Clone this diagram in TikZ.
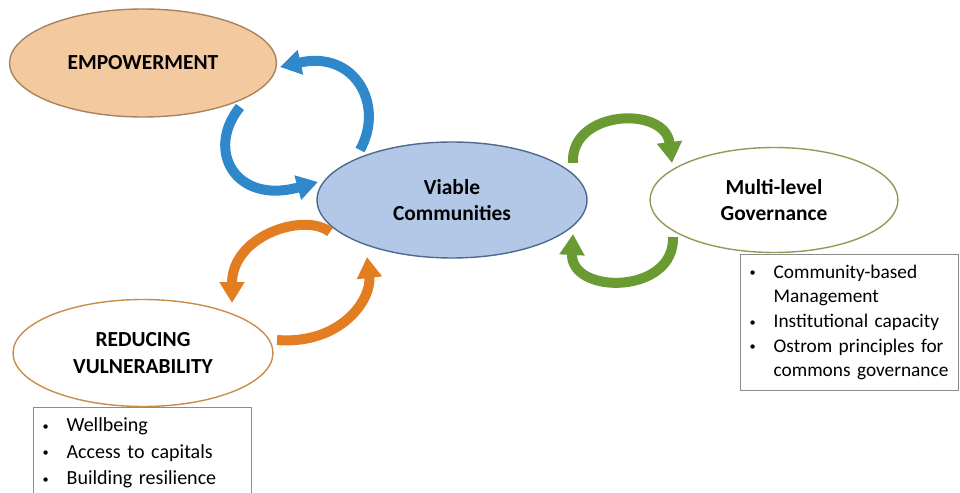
\documentclass[tikz,border=0pt]{standalone}
\usepackage{fontspec}
\setmainfont{Carlito}
\usetikzlibrary{shapes.geometric,arrows.meta}

\begin{document}
\begin{tikzpicture}[x=0.02cm,y=-0.02cm]
  % Local definitions
  \def\itemdot{\raisebox{0.15ex}{\scriptsize\textbullet}}

  % Colors
  \definecolor{empfill}{HTML}{F3C9A0}
  \definecolor{empline}{HTML}{A8845E}
  \definecolor{viafill}{HTML}{B3C7E7}
  \definecolor{vialine}{HTML}{4F6A8E}
  \definecolor{govline}{HTML}{8E9C58}
  \definecolor{redline}{HTML}{C98C4C}
  \definecolor{bluearrow}{HTML}{2F88C9}
  \definecolor{orangearrow}{HTML}{E27D22}
  \definecolor{greenarrow}{HTML}{6A9B32}
  \definecolor{boxline}{HTML}{8C8C8C}

  % Styles
  \tikzstyle{blob}=[ellipse,inner sep=0pt,align=center,line width=0.8pt,
    font=\fontsize{12.2}{15}\selectfont\bfseries]
  \tikzstyle{list box}=[rectangle,draw=boxline,line width=0.6pt,inner xsep=0.18cm,
    text width=4cm,font=\fontsize{11}{14}\selectfont]
  \tikzstyle{loop arrow}=[line width=0.2cm,-{Triangle[length=0.42cm,width=0.48cm]}]

  \path[use as bounding box] (0,0) rectangle (960,493);
  \clip (0,0) rectangle (960,493);

  % The graphic
  \node[blob,fill=empfill,draw=empline,minimum width=5.34cm,minimum height=2.16cm]
    (empower) at (143,63) {EMPOWERMENT};
  \node[blob,fill=viafill,draw=vialine,minimum width=5.4cm,minimum height=2.32cm]
    (viable) at (452,200) {Viable\\Communities};
  \node[blob,fill=white,draw=govline,minimum width=4.96cm,minimum height=2.1cm]
    (govern) at (774,200) {Multi-level\\Governance};
  \node[blob,fill=white,draw=redline,minimum width=5.2cm,minimum height=2.14cm]
    (reduce) at (143,353) {REDUCING\\VULNERABILITY};

  \node[list box,minimum height=2.72cm,anchor=north west] (govlist) at (740,254)
    {\noindent\begin{tabular}{@{}c@{\hspace{0.36cm}}l@{}}
      \itemdot & Community-based\\
               & Management\\
      \itemdot & Institutional capacity\\
      \itemdot & Ostrom principles for\\
               & commons governance
    \end{tabular}};
  \node[list box,minimum height=1.8cm,anchor=north west,
    font=\fontsize{11.4}{15}\selectfont] (redlist) at (33,407)
    {\noindent\begin{tabular}{@{}c@{\hspace{0.36cm}}l@{}}
      \itemdot & Wellbeing\\
      \itemdot & Access to capitals\\
      \itemdot & Building resilience
    \end{tabular}};

  % Loop ends
  \coordinate (b1) at (360,150);  \coordinate (b2) at (280,67);
  \coordinate (b3) at (240,107);  \coordinate (b4) at (318,182);
  \coordinate (o1) at (330,232);  \coordinate (o2) at (232,303);
  \coordinate (o3) at (277,340);  \coordinate (o4) at (367,257);
  \coordinate (g1) at (573,163);  \coordinate (g2) at (672,163);
  \coordinate (g3) at (673,237);  \coordinate (g4) at (573,234);

  \draw[loop arrow,bluearrow] (b1) .. controls (385,105) and (355,50) .. (b2);
  \draw[loop arrow,bluearrow] (b3) .. controls (205,150) and (235,205) .. (b4);
  \draw[loop arrow,orangearrow] (o1) .. controls (305,212) and (232,235) .. (o2);
  \draw[loop arrow,orangearrow] (o3) .. controls (340,345) and (372,300) .. (o4);
  \draw[loop arrow,greenarrow] (g1) .. controls (570,110) and (665,105) .. (g2);
  \draw[loop arrow,greenarrow] (g3) .. controls (675,295) and (570,295) .. (g4);
\end{tikzpicture}
\end{document}
